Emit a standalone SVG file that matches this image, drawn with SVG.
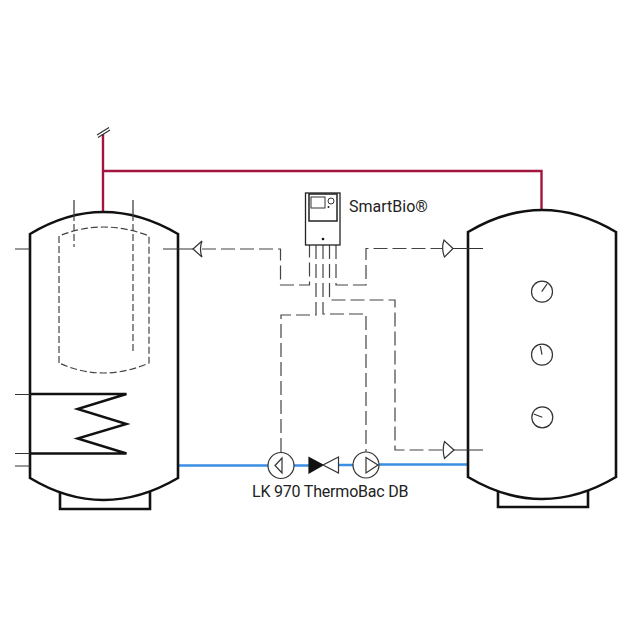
<svg xmlns="http://www.w3.org/2000/svg" width="640" height="640" viewBox="0 0 640 640">
<style>
.tank{fill:none;stroke:#111;stroke-width:2.6;stroke-linejoin:miter}
.thin{fill:none;stroke:#333;stroke-width:1.2}
.dash{fill:none;stroke:#444;stroke-width:1.2;stroke-dasharray:14 5}
.inner{fill:none;stroke:#444;stroke-width:1.2;stroke-dasharray:7 3}
.red{fill:none;stroke:#a3153f;stroke-width:2.4}
.blue{fill:none;stroke:#3a8fe3;stroke-width:2.6}
.sym{fill:#fff;stroke:#333;stroke-width:1.2}
text{font-family:Roboto,"Liberation Sans",sans-serif;font-size:16px;fill:#222}
</style>
<rect width="640" height="640" fill="#fff"/>
<g id="connectors">
<path class="red" d="M103 212V134M103 171H541.5V210"/>
<path class="thin" d="M97 135L109 127.500M98 137.500L110 130"/>
<path class="blue" d="M178 465.500H268M294 465.500H309M338 465H353M379 464.500H468"/>
<path class="dash" d="M202 249H280.500V285H309.500V245"/>
<path class="dash" d="M316 245V315H281V452"/>
<path class="dash" d="M323 245V314H366V452"/>
<path class="dash" d="M329.500 245V300H395V450H444"/>
<path class="dash" d="M336 245V285H366V248.500H444"/>
</g>
<g id="tank-left">
<path class="tank" d="M30 478V234Q103 190 178 234V478Q103 522 30 478Z"/>
<path class="tank" d="M60 492V509H150V492"/>
<path class="thin" d="M15 249H30M163 249H193M74 200V214M133 200V214M15 394.500H30M15 453.500H30M15 466H30"/>
<path class="inner" d="M59 363V236Q103 218 149 236V363Q103 383 59 363Z"/>
<path class="inner" d="M74 214V247M133 214V354"/>
<path d="M30 394H126.500L77.500 409L126.500 424L77.500 438.500L126.500 453.500H30" fill="none" stroke="#111" stroke-width="2.400"/>
<path class="sym" d="M193 249L202 241Q199 249 202 257Z"/>
</g>
<g id="tank-right">
<path class="tank" d="M468 477V232Q542 188 616 232V477Q542 521 468 477Z"/>
<path class="tank" d="M498 491V507H588V491"/>
<path class="thin" d="M453 248.500H483M453 450H483"/>
<path class="sym" d="M453 248.500L444 240Q441 248.500 444.500 257Z"/>
<path class="sym" d="M454 450L444.500 441.500Q442 450 444.500 458.500Z"/>
<circle class="thin" cx="542" cy="291.700" r="10.500"/>
<path class="thin" d="M541.700 291.700L547 284"/>
<circle class="thin" cx="542" cy="354.700" r="10.500"/>
<path class="thin" d="M542 354.700L540.300 346"/>
<circle class="thin" cx="542.300" cy="417.300" r="10.500"/>
<path class="thin" d="M542.300 417.300L533.700 414"/>
</g>
<g id="controller">
<rect x="305.500" y="193" width="34.500" height="52" fill="#fff" stroke="#222" stroke-width="1.300"/>
<rect x="309" y="194" width="28" height="27" fill="none" stroke="#222" stroke-width="1.500"/>
<rect x="311" y="197" width="14" height="11" fill="none" stroke="#333" stroke-width="1"/>
<circle cx="331" cy="201" r="3" fill="none" stroke="#333" stroke-width="1"/>
<circle cx="328.500" cy="207" r="1" fill="#222"/>
<circle cx="323" cy="239" r="1.300" fill="#111"/>
<text x="349" y="212">SmartBio®</text>
</g>
<g id="pump-left">
<circle class="sym" cx="281" cy="465.500" r="13"/>
<path class="sym" d="M275 465.500L282 458V473Z"/>
</g>
<g id="valve">
<path d="M309 457.500L323 465L309 473Z" fill="#111" stroke="#111" stroke-width="1.200"/>
<path class="sym" d="M338.500 457L323 465L338.500 473Z"/>
<text x="252" y="497" letter-spacing="-0.200">LK 970 ThermoBac DB</text>
</g>
<g id="pump-right">
<circle class="sym" cx="366" cy="465" r="13"/>
<path class="sym" d="M366 457.500L378 465L366 473Z"/>
</g>
</svg>
